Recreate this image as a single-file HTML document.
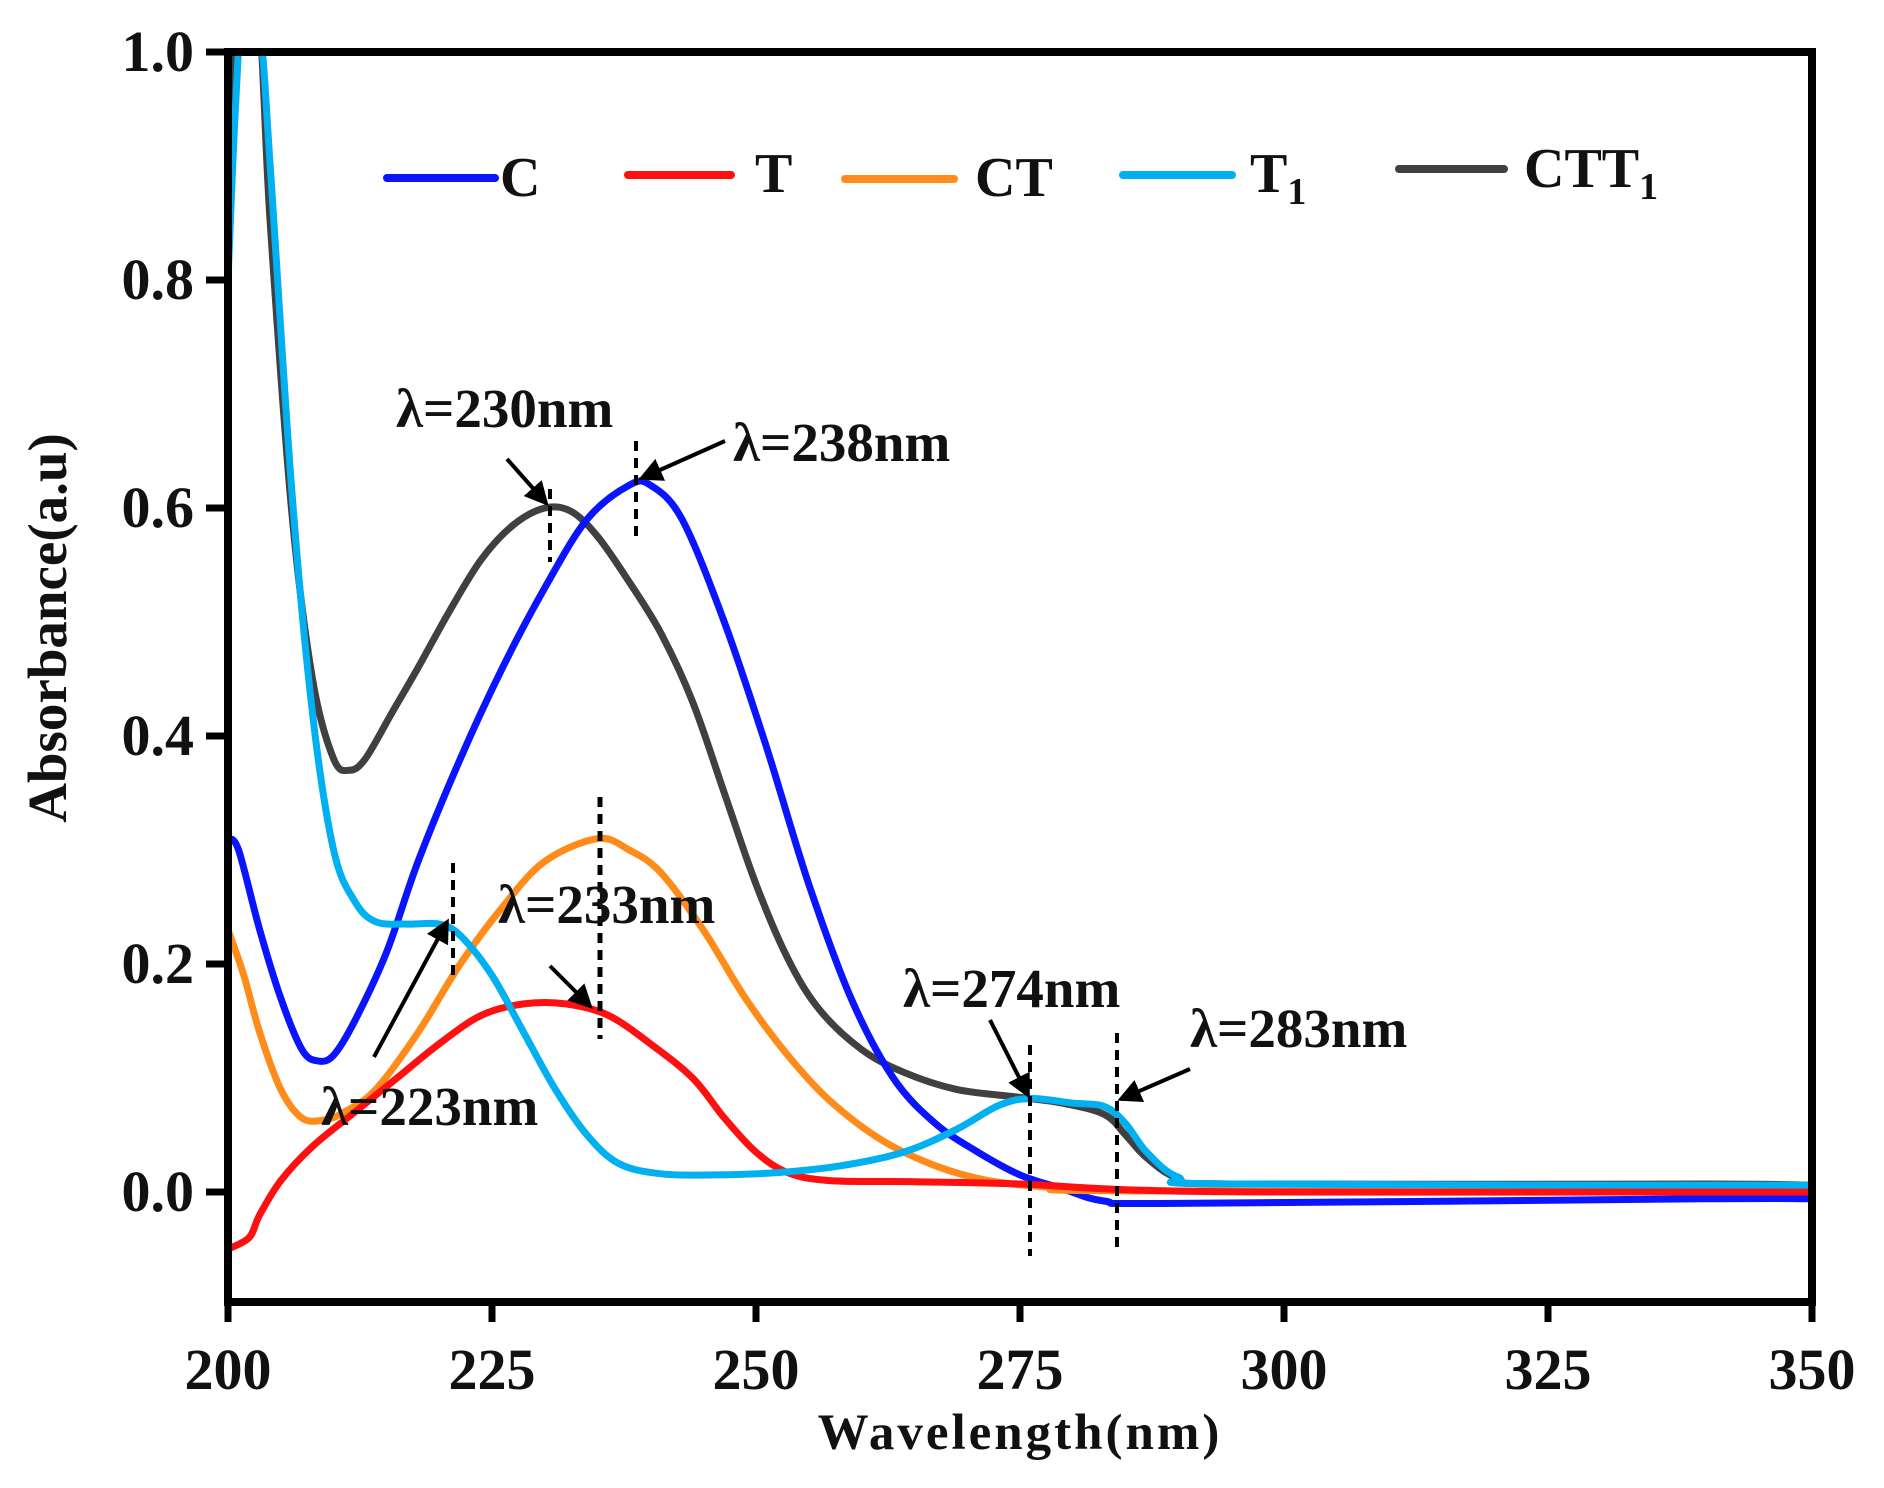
<!DOCTYPE html>
<html><head><meta charset="utf-8"><style>
html,body{margin:0;padding:0;background:#fff}
svg{display:block}
text{font-family:"Liberation Serif",serif;font-weight:bold;fill:#111}
</style></head><body>
<svg id="s" width="1884" height="1488" viewBox="0 0 1884 1488" xmlns="http://www.w3.org/2000/svg">
<defs>
<clipPath id="cp"><rect x="228" y="52" width="1584" height="1250"/></clipPath>
<marker id="ah" markerWidth="6" markerHeight="6" refX="5" refY="3" orient="auto" markerUnits="strokeWidth"><path d="M0,0 L6,3 L0,6 z" fill="#000"/></marker>
</defs>
<g id="curves" clip-path="url(#cp)" fill="none" stroke-width="7" stroke-linejoin="round" stroke-linecap="round"></g>
<rect x="228" y="52" width="1584" height="1250" fill="none" stroke="#000" stroke-width="8"/>
<g stroke="#000" stroke-width="7" id="ticks"></g>
<g font-size="58" id="labels"></g>
<text x="1020" y="1449" font-size="51" text-anchor="middle" letter-spacing="3">Wavelength(nm)</text>
<text transform="translate(66,628) rotate(-90)" font-size="55" text-anchor="middle">Absorbance(a.u)</text>
<!-- legend -->
<g stroke-width="8" stroke-linecap="round">
<line x1="387" y1="178" x2="495" y2="178" stroke="#0a14ff"/>
<line x1="628" y1="175" x2="731" y2="175" stroke="#ff1010"/>
<line x1="845" y1="179" x2="954" y2="179" stroke="#ff8c1a"/>
<line x1="1123" y1="175" x2="1232" y2="175" stroke="#00b0f0"/>
<line x1="1399" y1="169" x2="1504" y2="169" stroke="#404040"/>
</g>
<g font-size="56">
<text x="500" y="196">C</text>
<text x="755" y="192">T</text>
<text x="975" y="196">CT</text>
<text x="1250" y="192">T<tspan font-size="38" dy="12">1</tspan></text>
<text x="1524" y="187">CTT<tspan font-size="38" dy="12">1</tspan></text>
</g>
<!-- annotations -->
<g stroke="#000" stroke-width="4" stroke-dasharray="10,7" fill="none">
<line x1="550" y1="489" x2="550" y2="562"/>
<line x1="636" y1="441" x2="636" y2="543"/>
<line x1="600" y1="797" x2="600" y2="1039" stroke-width="5"/>
<line x1="453" y1="863" x2="453" y2="978"/>
<line x1="1030" y1="1045" x2="1030" y2="1256"/>
<line x1="1117" y1="1033" x2="1117" y2="1250"/>
</g>
<g stroke="#000" stroke-width="4" fill="none" marker-end="url(#ah)">
<line x1="507" y1="459" x2="546" y2="503"/>
<line x1="725" y1="441" x2="642" y2="478"/>
<line x1="550" y1="966" x2="590" y2="1006"/>
<line x1="374" y1="1057" x2="447" y2="922"/>
<line x1="990" y1="1020" x2="1028" y2="1095"/>
<line x1="1190" y1="1069" x2="1121" y2="1099"/>
</g>
<g font-size="55">
<text x="396" y="427">λ=230nm</text>
<text x="733" y="461">λ=238nm</text>
<text x="498" y="923">λ=233nm</text>
<text x="321" y="1125">λ=223nm</text>
<text x="903" y="1007">λ=274nm</text>
<text x="1190" y="1047">λ=283nm</text>
</g>
</svg>
<script>
const X=w=>228+(w-200)*10.56, Y=a=>1192-a*1140;
const data={
"#404040":[[200,0.9],[200.5,1.0],[202.7,1.05],[204,0.85],[206,0.6],[208,0.45],[210,0.38],[211.5,0.37],[213,0.38],[215.5,0.42],[218,0.46],[221,0.51],[224,0.555],[227,0.585],[230,0.6],[232.5,0.597],[235,0.575],[238,0.535],[241,0.49],[244,0.43],[247,0.35],[250,0.27],[253,0.205],[256,0.16],[260,0.125],[264,0.105],[269,0.09],[275,0.083],[279,0.078],[283,0.068],[285,0.05],[287,0.03],[290,0.012],[295,0.007],[340,0.007],[350,0.006]],
"#0a14ff":[[200,0.31],[201,0.3],[203,0.23],[205,0.17],[207,0.125],[208.5,0.115],[210,0.12],[212,0.15],[215,0.21],[218,0.29],[222,0.38],[226,0.46],[230,0.53],[234,0.59],[238,0.62],[240,0.62],[243,0.59],[247,0.5],[251,0.39],[255,0.27],[259,0.17],[263,0.1],[267,0.06],[271,0.035],[275,0.015],[279,0.003],[283,-0.008],[290,-0.01],[340,-0.006],[350,-0.006]],
"#ff8c1a":[[200,0.23],[201.5,0.19],[203,0.14],[205,0.09],[207,0.065],[209,0.063],[211,0.07],[214,0.09],[218,0.14],[222,0.2],[226,0.25],[230,0.29],[235,0.31],[238,0.3],[241,0.28],[245,0.23],[249,0.17],[253,0.12],[257,0.08],[262,0.045],[267,0.023],[272,0.01],[278,0.004],[285,0.001],[350,0]],
"#ff1010":[[200,-0.05],[202,-0.04],[203,-0.02],[205,0.01],[208,0.04],[212,0.07],[216,0.1],[220,0.13],[224,0.155],[228,0.165],[232,0.165],[236,0.155],[240,0.13],[244,0.1],[247,0.065],[250,0.035],[253,0.017],[257,0.01],[265,0.009],[275,0.007],[285,0.002],[300,0],[340,0],[350,0]],
"#00b0f0":[[200,0.8],[200.7,0.95],[201.5,1.05],[203,1.02],[204,0.9],[206,0.62],[208,0.42],[210,0.3],[212,0.255],[214,0.237],[217,0.235],[220,0.235],[222,0.225],[225,0.19],[228,0.14],[231,0.09],[234,0.05],[237,0.025],[241,0.016],[246,0.015],[252,0.017],[258,0.023],[264,0.035],[269,0.055],[273,0.076],[276,0.082],[280,0.078],[283,0.075],[285,0.06],[287,0.035],[290,0.013],[295,0.007],[350,0.006]]
};
function path(p){const q=p.map(([w,a])=>[X(w),Y(a)]);let d="M"+q[0][0].toFixed(1)+","+q[0][1].toFixed(1);
for(let i=0;i<q.length-1;i++){const p0=q[i-1]||q[i],p1=q[i],p2=q[i+1],p3=q[i+2]||p2;
const c1=[p1[0]+(p2[0]-p0[0])/6,p1[1]+(p2[1]-p0[1])/6],c2=[p2[0]-(p3[0]-p1[0])/6,p2[1]-(p3[1]-p1[1])/6];
d+=` C${c1[0].toFixed(1)},${c1[1].toFixed(1)} ${c2[0].toFixed(1)},${c2[1].toFixed(1)} ${p2[0].toFixed(1)},${p2[1].toFixed(1)}`;}return d;}
const ns="http://www.w3.org/2000/svg",g=document.getElementById("curves");
for(const c in data){const e=document.createElementNS(ns,"path");e.setAttribute("d",path(data[c]));e.setAttribute("stroke",c);g.appendChild(e);}
const t=document.getElementById("ticks"),l=document.getElementById("labels");
for(let i=0;i<=6;i++){const x=228+i*264;const e=document.createElementNS(ns,"line");e.setAttribute("x1",x);e.setAttribute("x2",x);e.setAttribute("y1",1302);e.setAttribute("y2",1322);t.appendChild(e);
const s=document.createElementNS(ns,"text");s.setAttribute("x",x);s.setAttribute("y",1389);s.setAttribute("text-anchor","middle");s.textContent=200+25*i;l.appendChild(s);}
for(let i=0;i<=5;i++){const y=Y(i*0.2);const e=document.createElementNS(ns,"line");e.setAttribute("x1",206);e.setAttribute("x2",228);e.setAttribute("y1",y);e.setAttribute("y2",y);t.appendChild(e);
const s=document.createElementNS(ns,"text");s.setAttribute("x",194);s.setAttribute("y",y+19);s.setAttribute("text-anchor","end");s.textContent=(i*0.2).toFixed(1);l.appendChild(s);}
</script>
</body></html>
